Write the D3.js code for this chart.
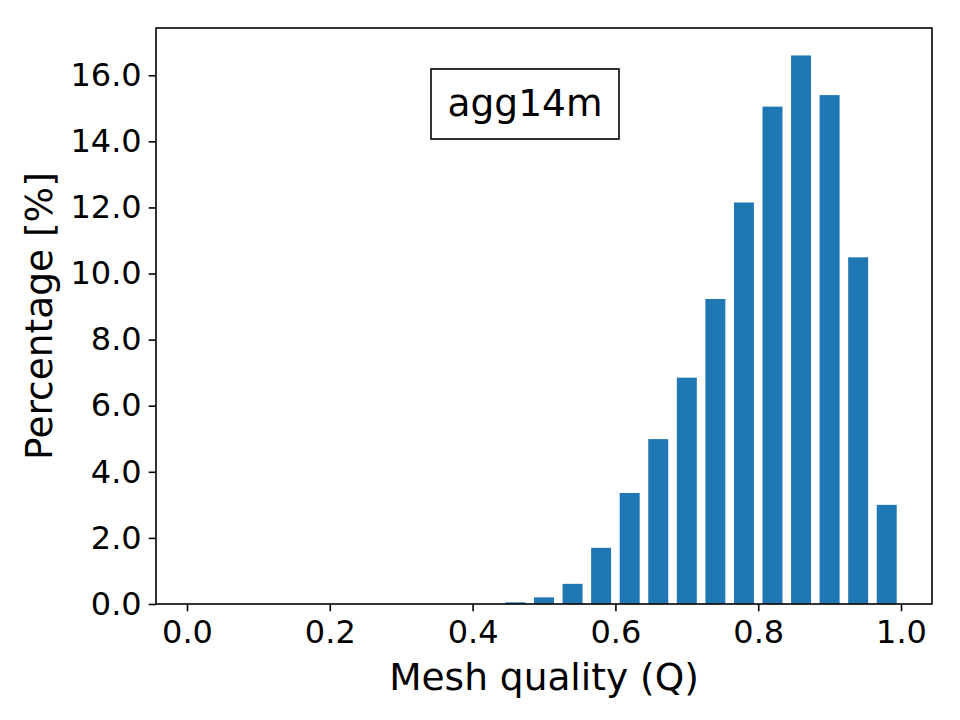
<!DOCTYPE html>
<html>
<head>
<meta charset="utf-8">
<script src="https://cdn.jsdelivr.net/npm/d3@7"></script>
<style>
  html, body { margin: 0; padding: 0; background: #fff; }
  svg { display: block; font-family: "DejaVu Sans", sans-serif; }
</style>
</head>
<body>
<svg id="chart" width="960" height="720"></svg>
<script>
// Histogram bins of mesh quality (bin centers) and percentage per bin
const binCenters = [0.02,0.06,0.10,0.14,0.18,0.22,0.26,0.30,0.34,0.38,0.42,0.46,0.50,0.54,0.58,0.62,0.66,0.70,0.74,0.78,0.82,0.86,0.90,0.94,0.98];
const percentages = [0,0,0,0,0,0,0,0,0,0,0,0.05,0.20,0.61,1.70,3.36,4.99,6.85,9.23,12.15,15.05,16.60,15.40,10.49,3.00];
const binWidth = 0.04;
const barFraction = 0.7;
const xTicks = [0.0,0.2,0.4,0.6,0.8,1.0];
const yTicks = [0,2,4,6,8,10,12,14,16];
const boxLabel = "agg14m";
const xLabel = "Mesh quality (Q)";
const yLabel = "Percentage [%]";

const svg = d3.select("#chart");
const m = {left: 156, right: 932, top: 28, bottom: 604};

const barW = binWidth * barFraction;
const xmin = binCenters[0] - barW/2, xmaxD = binCenters[binCenters.length-1] + barW/2;
const xpad = (xmaxD - xmin) * 0.05;
const x = d3.scaleLinear().domain([xmin - xpad, xmaxD + xpad]).range([m.left, m.right]);
const y = d3.scaleLinear().domain([0, d3.max(percentages) * 1.05]).range([m.bottom, m.top]);

// bars
svg.append("g").selectAll("rect")
  .data(binCenters.map((c, i) => ({c, v: percentages[i]})).filter(d => d.v > 0))
  .join("rect")
  .attr("x", d => x(d.c - barW/2))
  .attr("width", d => x(d.c + barW/2) - x(d.c - barW/2))
  .attr("y", d => y(d.v))
  .attr("height", d => y(0) - y(d.v))
  .attr("fill", "#1f77b4");

// axes
const xAxis = svg.append("g").attr("transform", `translate(0,${m.bottom})`)
  .call(d3.axisBottom(x).tickValues(xTicks).tickFormat(d3.format(".1f")).tickSize(7.3).tickPadding(7));
const yAxis = svg.append("g").attr("transform", `translate(${m.left},0)`)
  .call(d3.axisLeft(y).tickValues(yTicks).tickFormat(d3.format(".1f")).tickSize(7.3).tickPadding(7));
[xAxis, yAxis].forEach(g => {
  g.select(".domain").remove();
  g.selectAll("line").attr("stroke", "#000").attr("stroke-width", 1.6);
  g.selectAll("text").attr("fill", "#000").style("font-size", "32px").style("font-family", "DejaVu Sans");
});
xAxis.selectAll("text").attr("dy", "0.76em");

// frame
svg.append("rect").attr("x", m.left).attr("y", m.top)
  .attr("width", m.right - m.left).attr("height", m.bottom - m.top)
  .attr("fill", "none").attr("stroke", "#000").attr("stroke-width", 1.6);

// axis labels
svg.append("text").attr("x", (m.left + m.right)/2).attr("y", 690)
  .attr("text-anchor", "middle").style("font-size", "37.5px").text(xLabel);
svg.append("text").attr("transform", `translate(52,${(m.top + m.bottom)/2}) rotate(-90)`)
  .attr("text-anchor", "middle").style("font-size", "37.5px").text(yLabel);

// label box
const boxG = svg.append("g");
boxG.append("rect")
  .attr("x", 431).attr("y", 69).attr("width", 188).attr("height", 70)
  .attr("fill", "#fff").attr("stroke", "#000").attr("stroke-width", 1.6);
boxG.append("text").attr("x", 525).attr("y", 116)
  .attr("text-anchor", "middle").style("font-size", "37.5px").text(boxLabel);
</script>
</body>
</html>
